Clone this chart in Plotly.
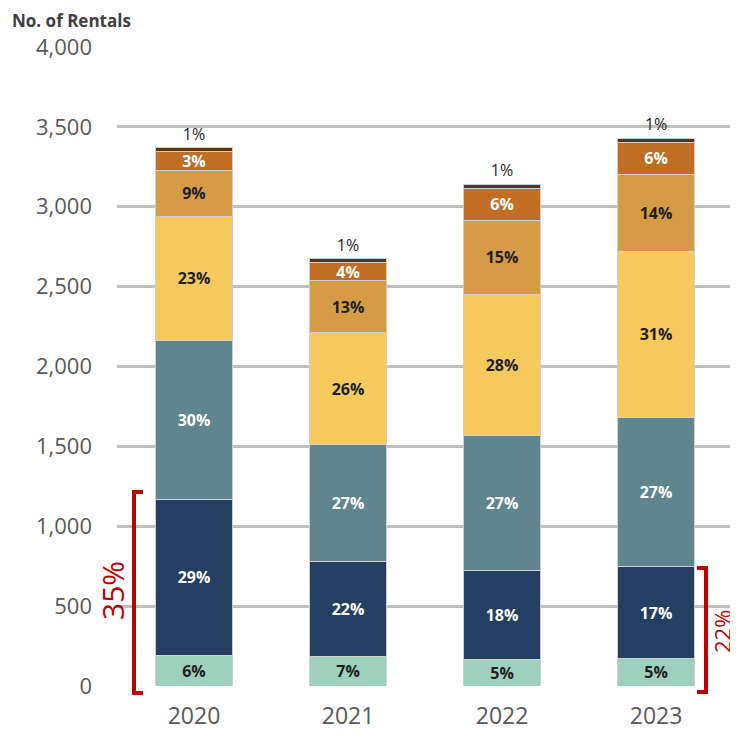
import plotly.graph_objects as go

years = ["2020", "2021", "2022", "2023"]

seg1 = [194, 182, 163, 175]
seg2 = [976, 600, 557, 570]
seg3 = [990, 727, 851, 933]
seg4 = [782, 701, 877, 1045]
seg5 = [288, 331, 469, 482]
seg6 = [113, 107, 200, 200]
seg7 = [25, 25, 25, 25]

pct1 = ["6%", "7%", "5%", "5%"]
pct2 = ["29%", "22%", "18%", "17%"]
pct3 = ["30%", "27%", "27%", "27%"]
pct4 = ["23%", "26%", "28%", "31%"]
pct5 = ["9%", "13%", "15%", "14%"]
pct6 = ["3%", "4%", "6%", "6%"]
pct7 = ["1%", "1%", "1%", "1%"]

left_bracket_label = "35%"
right_bracket_label = "22%"

series = [
    (seg1, pct1, "#9fd0bd", "#1f1f1f"),
    (seg2, pct2, "#243f62", "#ffffff"),
    (seg3, pct3, "#5f858f", "#ffffff"),
    (seg4, pct4, "#f5c95c", "#1f1f1f"),
    (seg5, pct5, "#d59c45", "#1f1f1f"),
    (seg6, pct6, "#c16d24", "#ffffff"),
]

FONT = "Open Sans"
fig = go.Figure()
for i, (vals, pcts, col, tcol) in enumerate(series):
    fig.add_trace(go.Bar(
        x=years, y=vals, text=pcts, marker_color=col,
        marker_line=dict(width=1, color="#cfcfcf"), textposition="inside",
        insidetextanchor="middle", constraintext="none",
        textfont=dict(family=FONT, size=16, color=tcol, weight="bold"),
        width=0.5, showlegend=False, hoverinfo="skip"))
fig.add_trace(go.Bar(
    x=years, y=seg7, text=pct7, marker_color="#5c3311",
    marker_line=dict(width=1, color="#cfcfcf"),
    textposition="outside", constraintext="none", cliponaxis=False,
    textfont=dict(family=FONT, size=16, color="#1f1f1f"),
    outsidetextfont=dict(family=FONT, size=16, color="#1f1f1f"),
    width=0.5, showlegend=False, hoverinfo="skip"))

# Page has an 8px body margin; the figure is laid out so that the plot area
# lands at screen x 117..738, y 47..686.
OFF = 8
PLOT_L, PLOT_T, PLOT_W, PLOT_H = 117, 47, 621, 639


def px_x(p):
    return (p - PLOT_L) / PLOT_W


def px_y(p):
    return (PLOT_T + PLOT_H - p) / PLOT_H


red = "#c00000"
# left bracket
xl0, xl1 = px_x(134), px_x(143)
yt, yb = px_y(492), px_y(693)
fig.add_shape(type="path", xref="paper", yref="paper",
              path=f"M {xl1} {yt} L {xl0} {yt} L {xl0} {yb} L {xl1} {yb}",
              line=dict(color=red, width=4))
# right bracket
xr0, xr1 = px_x(697), px_x(706)
yt2, yb2 = px_y(568), px_y(692)
fig.add_shape(type="path", xref="paper", yref="paper",
              path=f"M {xr0} {yt2} L {xr1} {yt2} L {xr1} {yb2} L {xr0} {yb2}",
              line=dict(color=red, width=4))

fig.add_annotation(x=px_x(112), y=px_y(591), xref="paper", yref="paper",
                   xanchor="center", yanchor="middle",
                   text=left_bracket_label, showarrow=False, textangle=-90,
                   font=dict(family=FONT, size=30, color=red))
fig.add_annotation(x=px_x(722), y=px_y(632), xref="paper", yref="paper",
                   xanchor="center", yanchor="middle",
                   text=right_bracket_label, showarrow=False, textangle=-90,
                   font=dict(family=FONT, size=22, color=red))

fig.add_annotation(x=px_x(11), y=px_y(OFF), xref="paper", yref="paper",
                   text="<b>No. of Rentals</b>", borderpad=0,
                   showarrow=False, xanchor="left", yanchor="top",
                   font=dict(family=FONT, size=17, color="#404040"))

fig.update_layout(
    width=738, height=735, barmode="stack",
    margin=dict(l=PLOT_L - OFF, r=735 + 3 - (PLOT_L + PLOT_W - OFF),
                t=PLOT_T - OFF, b=735 - (PLOT_T + PLOT_H - OFF),
                autoexpand=False),
    plot_bgcolor="white", paper_bgcolor="white",
    font=dict(family=FONT, color="#595959"),
    xaxis=dict(range=[-0.5, 3.532], showgrid=False, ticks="", showline=False,
               ticklabelstandoff=14, automargin=False,
               tickfont=dict(size=23, color="#595959"), type="category"),
    yaxis=dict(range=[0, 4000], dtick=500, tickformat=",", showline=False,
               gridcolor="#bfbfbf", gridwidth=3, zeroline=False, ticks="",
               ticklabelstandoff=24, automargin=False,
               tickfont=dict(size=22, color="#595959")),
)

fig.write_html("out.html")
